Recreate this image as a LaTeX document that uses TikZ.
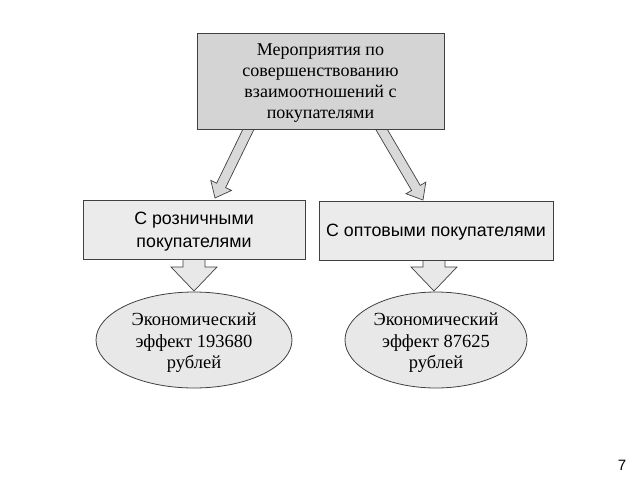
\documentclass[tikz,border=0pt]{standalone}
\usepackage{fontspec}
\setmainfont{Liberation Serif}
\newfontfamily\arialfont{Liberation Sans}
\usetikzlibrary{calc,shapes.geometric}
\definecolor{topfill}{HTML}{D4D4D4}
\definecolor{midfill}{HTML}{EBEBEB}
\definecolor{ellfill}{HTML}{E8E8E8}
\definecolor{arrfill}{HTML}{D9D9D9}
\definecolor{edge}{HTML}{404040}
\tikzset{
  topbox/.style={draw=edge,fill=topfill,line width=0.9pt,inner sep=0pt},
  toptext/.style={inner sep=0pt,align=center,font=\fontsize{18}{21}\selectfont},
  midbox/.style={draw=edge,fill=midfill,line width=0.9pt,inner sep=0pt},
  midtext/.style={inner sep=0pt,align=center,font=\arialfont\fontsize{17.8}{23}\selectfont},
  effell/.style={ellipse,draw=edge,fill=ellfill,line width=0.8pt,inner sep=0pt},
  efftext/.style={inner sep=0pt,align=center,font=\fontsize{18.5}{21.5}\selectfont},
  blockarr/.style={draw=edge,line width=0.7pt,line join=miter},
}
% #1 start, #2 tip, #3 shaft half, #4 head half, #5 head length, #6 fill
\newcommand{\myblockarrow}[6]{%
  \coordinate (hb) at ($(#2)!#5!(#1)$);
  \draw[blockarr,fill=#6]
    ($(#1)!#3!90:(#2)$) -- ($(hb)!#3!-90:(#1)$) -- ($(hb)!#4!-90:(#1)$) -- (#2)
    -- ($(hb)!#4!90:(#1)$) -- ($(hb)!#3!90:(#1)$) -- ($(#1)!#3!-90:(#2)$) -- cycle;
}
\begin{document}
\begin{tikzpicture}[x=1pt,y=-1pt]
\useasboundingbox (0,0) rectangle (640,480);
% anchor coordinates for connectors
\coordinate (la0) at (253,120);
\coordinate (la1) at (215,198);
\coordinate (ra0) at (376,120);
\coordinate (ra1) at (423,200);
\coordinate (ld0) at (194,255);
\coordinate (ld1) at (194,291);
\coordinate (rd0) at (434,255);
\coordinate (rd1) at (434,291);
\myblockarrow{la0}{la1}{5pt}{11.5pt}{14pt}{arrfill}
\myblockarrow{ra0}{ra1}{5pt}{11.5pt}{14pt}{arrfill}
\myblockarrow{ld0}{ld1}{11pt}{23pt}{24pt}{ellfill}
\myblockarrow{rd0}{rd1}{11pt}{23pt}{24pt}{ellfill}
% nodes
\node[topbox,minimum width=247pt,minimum height=96pt] (top) at (320.5,81) {};
\node[toptext] (topt) at ([yshift=-2.5pt]top.center)
  {Мероприятия по\\совершенствованию\\взаимоотношений с\\покупателями};
\node[midbox,minimum width=222pt,minimum height=59pt] (retail) at (194,229.5) {};
\node[midtext] (retailt) at ([yshift=-2pt]retail.center)
  {С розничными\\покупателями};
\node[midbox,minimum width=234pt,minimum height=59pt] (whole) at (436,230.5) {};
\node[midtext] (wholet) at ([yshift=-1.5pt]whole.center)
  {С оптовыми покупателями};
\node[effell,minimum width=196pt,minimum height=96pt] (eff1) at (194,340) {};
\node[efftext] (eff1t) at ([yshift=-3pt]eff1.center)
  {Экономический\\эффект 193680\\рублей};
\node[effell,minimum width=182pt,minimum height=96pt] (eff2) at (436,340) {};
\node[efftext] (eff2t) at ([yshift=-3pt]eff2.center)
  {Экономический\\эффект 87625\\рублей};
\node[font=\arialfont\fontsize{15}{18}\selectfont] (page) at (622,465) {7};
\end{tikzpicture}
\end{document}
